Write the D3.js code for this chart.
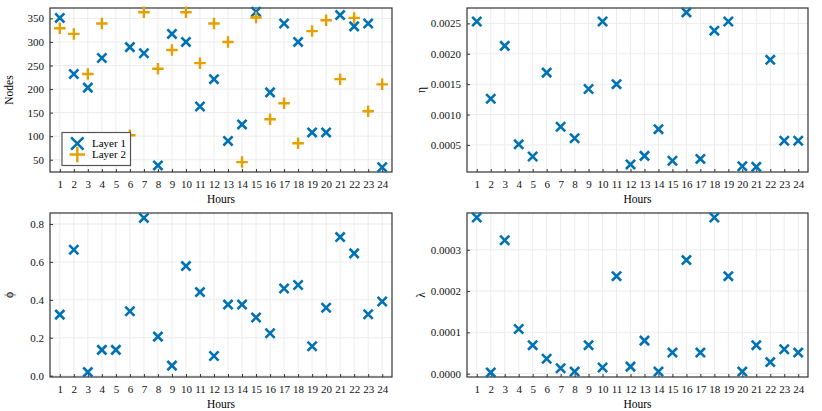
<!DOCTYPE html>
<html>
<head>
<meta charset="utf-8">
<script src="https://cdn.jsdelivr.net/npm/d3@7"></script>
<style>
  body { margin: 0; background: #fff; }
  svg { display: block; font-family: "Liberation Serif", "DejaVu Serif", serif; }
</style>
</head>
<body>
<svg id="chart" width="822" height="411"></svg>
<script>
// hours on the x axis
const hours = d3.range(1, 25)

// values
const nodesLayer1 = [351, 232, 203, 266, 70, 289, 276, 38, 317, 300, 163, 221, 90, 125, 364, 193, 339, 300, 108, 108, 357, 333, 339, 34]
const nodesLayer2 = [329, 317, 232, 339, 80, 102, 363, 243, 283, 363, 255, 339, 300, 45, 352, 136, 170, 85, 323, 346, 221, 351, 153, 210]
const etaValues = [0.00253, 0.00126, 0.00213, 0.00051, 0.00031, 0.00169, 0.0008, 0.00061, 0.00142, 0.00253, 0.0015, 0.00018, 0.00032, 0.00076, 0.00024, 0.00268, 0.00027, 0.00238, 0.00253, 0.00015, 0.00014, 0.0019, 0.00057, 0.00057]
const phiValues = [0.322, 0.664, 0.019, 0.136, 0.136, 0.34, 0.832, 0.206, 0.053, 0.578, 0.441, 0.104, 0.375, 0.375, 0.307, 0.224, 0.46, 0.478, 0.155, 0.358, 0.731, 0.645, 0.324, 0.391]
const lambdaValues = [3.78e-4, 0.03e-4, 3.23e-4, 1.08e-4, 0.69e-4, 0.36e-4, 0.13e-4, 0.05e-4, 0.69e-4, 0.15e-4, 2.36e-4, 0.17e-4, 0.8e-4, 0.05e-4, 0.51e-4, 2.75e-4, 0.51e-4, 3.78e-4, 2.36e-4, 0.05e-4, 0.69e-4, 0.28e-4, 0.59e-4, 0.51e-4]

// tick labels
const nodesTicks = [50, 100, 150, 200, 250, 300, 350]
const etaTicks = [0.0005, 0.0010, 0.0015, 0.0020, 0.0025]
const phiTicks = [0.0, 0.2, 0.4, 0.6, 0.8]
const lambdaTicks = [0.0000, 0.0001, 0.0002, 0.0003]
const legendLabels = ['Layer 1', 'Layer 2']

const blue = '#0072b2'
const orange = '#e69f00'

const svg = d3.select('#chart')

// draws one marker shape centred at (cx, cy)
function marker (g, shape, cx, cy, r, color) {
  let d = shape === 'x'
    ? `M${cx - r},${cy - r}L${cx + r},${cy + r}M${cx - r},${cy + r}L${cx + r},${cy - r}`
    : `M${cx - r * 1.25},${cy}L${cx + r * 1.25},${cy}M${cx},${cy - r * 1.25}L${cx},${cy + r * 1.25}`
  g.append('path')
      .attr('d', d)
      .attr('stroke', color)
      .attr('stroke-width', shape === 'x' ? 2.6 : 2.4)
      .attr('fill', 'none')
}

function panel (opts) {
  let {left, top, width, height, yDomain, yTicks, yFormat, yLabel, series} = opts
  let g = svg.append('g').attr('transform', `translate(${left},${top})`)

  let x = d3.scaleLinear().domain([0.3, 24.7]).range([0, width])
  let y = d3.scaleLinear().domain(yDomain).range([height, 0])

  // grid
  g.append('g').selectAll('line.gx')
      .data(hours)
    .enter().append('line')
      .attr('x1', d => x(d)).attr('x2', d => x(d))
      .attr('y1', 0).attr('y2', height)
      .attr('stroke', '#ececec').attr('stroke-width', 1)
  g.append('g').selectAll('line.gy')
      .data(yTicks)
    .enter().append('line')
      .attr('x1', 0).attr('x2', width)
      .attr('y1', d => y(d)).attr('y2', d => y(d))
      .attr('stroke', '#ececec').attr('stroke-width', 1)

  // axes, ticks point inwards
  let xAxis = g.append('g')
      .attr('transform', `translate(0,${height})`)
      .call(d3.axisBottom(x).tickValues(hours).tickSize(-3).tickPadding(8).tickFormat(d3.format('d')))
  let yAxis = g.append('g')
      .call(d3.axisLeft(y).tickValues(yTicks).tickSize(-3).tickPadding(6).tickFormat(yFormat))
  for (let a of [xAxis, yAxis]) {
    a.select('.domain').remove()
    a.selectAll('line').attr('stroke', '#333')
    a.selectAll('text')
        .attr('font-family', '"Liberation Serif", serif')
        .attr('font-size', 11)
        .attr('fill', '#111')
  }

  // frame
  g.append('rect')
      .attr('width', width).attr('height', height)
      .attr('fill', 'none').attr('stroke', '#333').attr('stroke-width', 1.2)

  // axis labels
  g.append('text')
      .attr('x', width / 2).attr('y', height + 31)
      .attr('text-anchor', 'middle')
      .attr('font-size', 11.5)
      .text('Hours')
  g.append('text')
      .attr('transform', `translate(${opts.yLabelX},${height / 2}) rotate(-90)`)
      .attr('text-anchor', 'middle')
      .attr('font-size', 11.5)
      .text(yLabel)

  // markers
  let pts = g.append('g')
  for (let s of series) {
    s.values.forEach((v, i) => marker(pts, s.shape, x(hours[i]), y(v), 4.6, s.color))
  }
  return g
}

panel({
  left: 50, top: 8, width: 342, height: 164,
  yDomain: [24, 372], yTicks: nodesTicks, yFormat: d3.format('d'),
  yLabel: 'Nodes', yLabelX: -37,
  series: [
    {values: nodesLayer1, shape: 'x', color: blue},
    {values: nodesLayer2, shape: '+', color: orange}
  ]
})

panel({
  left: 467, top: 8, width: 341, height: 164,
  yDomain: [0.000055, 0.002753], yTicks: etaTicks, yFormat: d3.format('.4f'),
  yLabel: 'η', yLabelX: -42,
  series: [{values: etaValues, shape: 'x', color: blue}]
})

panel({
  left: 50, top: 213, width: 342, height: 164,
  yDomain: [-0.007, 0.858], yTicks: phiTicks, yFormat: d3.format('.1f'),
  yLabel: 'ϕ', yLabelX: -37,
  series: [{values: phiValues, shape: 'x', color: blue}]
})

panel({
  left: 467, top: 213, width: 341, height: 164,
  yDomain: [-0.0000081, 0.000389], yTicks: lambdaTicks, yFormat: d3.format('.4f'),
  yLabel: 'λ', yLabelX: -42,
  series: [{values: lambdaValues, shape: 'x', color: blue}]
})

// legend in the first panel
let legend = svg.append('g').attr('transform', 'translate(62,132.5)')
legend.append('rect')
    .attr('width', 68.5).attr('height', 33)
    .attr('fill', '#fff').attr('stroke', '#555').attr('stroke-width', 1.2)
legendLabels.forEach((label, i) => {
  marker(legend, i === 0 ? 'x' : '+', 15.3, 11 + i * 11, 6.2, i === 0 ? blue : orange)
  legend.append('text')
      .attr('x', 30).attr('y', 11 + i * 11)
      .attr('dy', '0.35em')
      .attr('font-size', 11)
      .text(label)
})
</script>
</body>
</html>
